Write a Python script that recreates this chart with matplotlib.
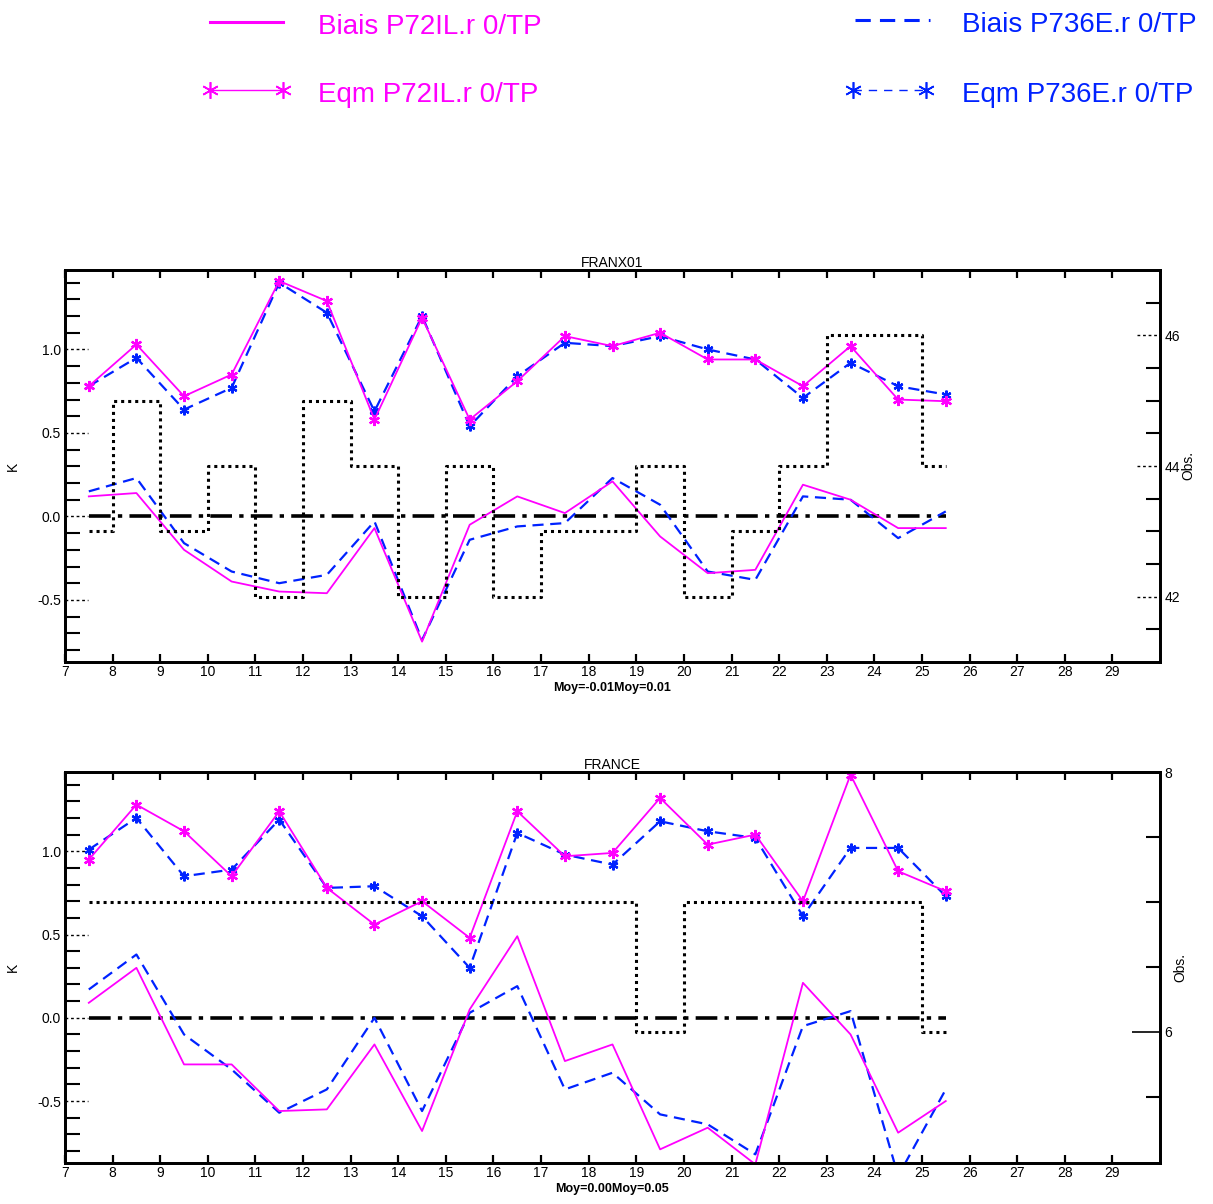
import matplotlib
matplotlib.use("Agg")
import matplotlib.pyplot as plt
import matplotlib.transforms as mtransforms
from matplotlib.lines import Line2D

plt.rcParams['font.family'] = ['Liberation Sans', 'DejaVu Sans']
plt.rcParams['axes.unicode_minus'] = False

# ── Data ──────────────────────────────────────────────────────────────────
hours = [7.5, 8.5, 9.5, 10.5, 11.5, 12.5, 13.5, 14.5, 15.5, 16.5,
         17.5, 18.5, 19.5, 20.5, 21.5, 22.5, 23.5, 24.5, 25.5]
xticks = list(range(7, 30))

# FRANX01
franx_biais_p72 = [0.12, 0.14, -0.20, -0.39, -0.45, -0.46, -0.07, -0.75, -0.05, 0.12,
                   0.02, 0.21, -0.12, -0.34, -0.32, 0.19, 0.10, -0.07, -0.07]
franx_biais_p736 = [0.15, 0.23, -0.16, -0.33, -0.40, -0.35, -0.03, -0.74, -0.14, -0.06,
                    -0.04, 0.23, 0.07, -0.33, -0.38, 0.12, 0.10, -0.13, 0.03]
franx_eqm_p72 = [0.78, 1.03, 0.72, 0.85, 1.41, 1.29, 0.58, 1.19, 0.58, 0.81,
                 1.08, 1.02, 1.10, 0.94, 0.94, 0.78, 1.02, 0.70, 0.69]
franx_eqm_p736 = [0.78, 0.95, 0.64, 0.77, 1.40, 1.22, 0.63, 1.20, 0.54, 0.84,
                  1.04, 1.02, 1.08, 1.00, 0.94, 0.71, 0.92, 0.78, 0.73]
franx_obs = [43, 45, 43, 44, 42, 45, 44, 42, 44, 42,
             43, 43, 44, 42, 43, 44, 46, 46, 44]

# FRANCE
france_biais_p72 = [0.09, 0.30, -0.28, -0.28, -0.56, -0.55, -0.16, -0.68, 0.05, 0.49,
                    -0.26, -0.16, -0.79, -0.66, -0.88, 0.21, -0.10, -0.69, -0.50]
france_biais_p736 = [0.17, 0.38, -0.10, -0.31, -0.57, -0.43, 0.00, -0.56, 0.03, 0.19,
                     -0.43, -0.33, -0.58, -0.64, -0.82, -0.05, 0.04, -0.95, -0.43]
france_eqm_p72 = [0.95, 1.28, 1.12, 0.85, 1.24, 0.78, 0.56, 0.70, 0.48, 1.24,
                  0.97, 0.99, 1.32, 1.04, 1.10, 0.70, 1.46, 0.88, 0.76]
france_eqm_p736 = [1.01, 1.20, 0.85, 0.89, 1.19, 0.78, 0.79, 0.61, 0.30, 1.11,
                   0.98, 0.92, 1.18, 1.12, 1.08, 0.61, 1.02, 1.02, 0.73]
france_obs = [7, 7, 7, 7, 7, 7, 7, 7, 7, 7,
              7, 7, 6, 7, 7, 7, 7, 7, 6]

k_labels = [-0.5, 0.0, 0.5, 1.0]
k_minor = [-0.8, -0.7, -0.6, -0.4, -0.3, -0.2, -0.1, 0.1, 0.2, 0.3, 0.4,
           0.6, 0.7, 0.8, 0.9, 1.1, 1.2, 1.3, 1.4]

MAGENTA = "#ff00ff"
BLUE = "#0022ff"
ASTER = (6, 2, 0)
FIG_W, FIG_H = 1213, 1204


def draw_panel(ax, title, xlabel, biais72, biais736, eqm72, eqm736,
               obs, obs_lim, obs_major, obs_minor, dashed_obs_ticks):
    ax.set_xlim(7, 30)
    ax.set_ylim(-0.872, 1.476)

    ax.plot(hours, biais72, color=MAGENTA, lw=1.3, zorder=4)
    ax.plot(hours, biais736, color=BLUE, lw=1.6, dashes=(5, 3), zorder=3)
    ax.plot(hours, eqm72, color=MAGENTA, lw=1.3, marker=ASTER, ms=8, mew=1.6, zorder=4)
    ax.plot(hours, eqm736, color=BLUE, lw=1.6, dashes=(5, 3), marker=ASTER,
            ms=7, mew=1.6, zorder=3)
    ax.plot([hours[0], hours[-1]], [0, 0], color="k", lw=2.6,
            dashes=(6, 2, 1.2, 2), zorder=2)

    ax.set_xticks(xticks)
    ax.tick_params(axis="x", which="major", direction="in", top=True, bottom=True,
                   length=6, width=1.6, labelsize=10, pad=2)
    ax.set_yticks(k_labels)
    ax.set_yticklabels([f"{v:.1f}" for v in k_labels])
    ax.set_yticks(k_minor, minor=True)
    ax.tick_params(axis="y", which="major", length=0, labelsize=10, pad=3)
    ax.tick_params(axis="y", which="minor", direction="in", length=11, width=1.5,
                   left=True, right=False)
    for sp in ax.spines.values():
        sp.set_linewidth(2)

    trans = mtransforms.blended_transform_factory(ax.transAxes, ax.transData)
    for v in k_labels:
        ax.plot([0, 0.021], [v, v], transform=trans, color="k", lw=1,
                dashes=(2, 2), clip_on=False)

    ax.set_title(title, fontsize=10, pad=2)
    ax.set_xlabel(xlabel, fontsize=9, fontweight="bold", labelpad=2)
    ax.set_ylabel("K", fontsize=10, labelpad=12)

    ax2 = ax.twinx()
    ax2.set_ylim(obs_lim)
    ax2.plot(hours, obs, drawstyle="steps-mid", color="k", lw=2.2,
             dashes=(1, 1.3), zorder=1)
    ax2.set_yticks(obs_major)
    ax2.set_yticks(obs_minor, minor=True)
    if dashed_obs_ticks:
        ax2.tick_params(axis="y", which="major", length=0, labelsize=10, pad=3)
        trans2 = mtransforms.blended_transform_factory(ax2.transAxes, ax2.transData)
        for v in obs_major:
            ax2.plot([0.979, 1.0], [v, v], transform=trans2, color="k", lw=1,
                     dashes=(2, 2), clip_on=False)
    else:
        ax2.tick_params(axis="y", which="major", direction="in", length=20,
                        width=1.2, labelsize=10, pad=3)
    ax2.tick_params(axis="y", which="minor", direction="in", length=10, width=1.5)
    ax2.set_ylabel("Obs.", fontsize=10, labelpad=1)
    for sp in ax2.spines.values():
        sp.set_linewidth(2)
    return ax2


fig = plt.figure(figsize=(FIG_W / 100, FIG_H / 100), dpi=100)

ax_top = fig.add_axes([65 / FIG_W, 1 - 662 / FIG_H, 1095 / FIG_W, 392 / FIG_H])
draw_panel(ax_top, "FRANX01", "Moy=-0.01Moy=0.01",
           franx_biais_p72, franx_biais_p736, franx_eqm_p72, franx_eqm_p736,
           franx_obs, (41, 47), [42, 44, 46],
           [41.5, 42.5, 43, 43.5, 44.5, 45, 45.5, 46.5], True)

ax_bot = fig.add_axes([65 / FIG_W, 1 - 1163 / FIG_H, 1095 / FIG_W, 391 / FIG_H])
draw_panel(ax_bot, "FRANCE", "Moy=0.00Moy=0.05",
           france_biais_p72, france_biais_p736, france_eqm_p72, france_eqm_p736,
           france_obs, (4.99, 8.0), [6, 8], [5.5, 6.5, 7, 7.5], False)


# ── Legend (figure coordinates) ───────────────────────────────────────────
def fx(px):
    return px / FIG_W


def fy(py):
    return 1 - py / FIG_H


legend_items = [
    ("Biais P72IL.r 0/TP", MAGENTA, None, None, 210, 283, 318, 22),
    ("Eqm P72IL.r 0/TP", MAGENTA, None, ASTER, 210, 283, 318, 90),
    ("Biais P736E.r 0/TP", BLUE, (5, 3), None, 855, 930, 962, 20),
    ("Eqm P736E.r 0/TP", BLUE, (6, 5), ASTER, 853, 926, 962, 90),
]
for label, color, dashes, marker, x0, x1, xt, y in legend_items:
    kw = dict(color=color, lw=1.6, transform=fig.transFigure)
    if dashes is not None:
        kw["dashes"] = dashes
    if marker is not None:
        kw.update(marker=marker, ms=12, mew=1.2)
        kw["lw"] = 1.0
    else:
        kw["lw"] = 2.2
    fig.add_artist(Line2D([fx(x0), fx(x1)], [fy(y), fy(y)], **kw))
    fig.text(fx(xt), fy(y + 5), label, color=color, fontsize=20, va="center", ha="left")

fig.savefig("out.png", dpi=100)
